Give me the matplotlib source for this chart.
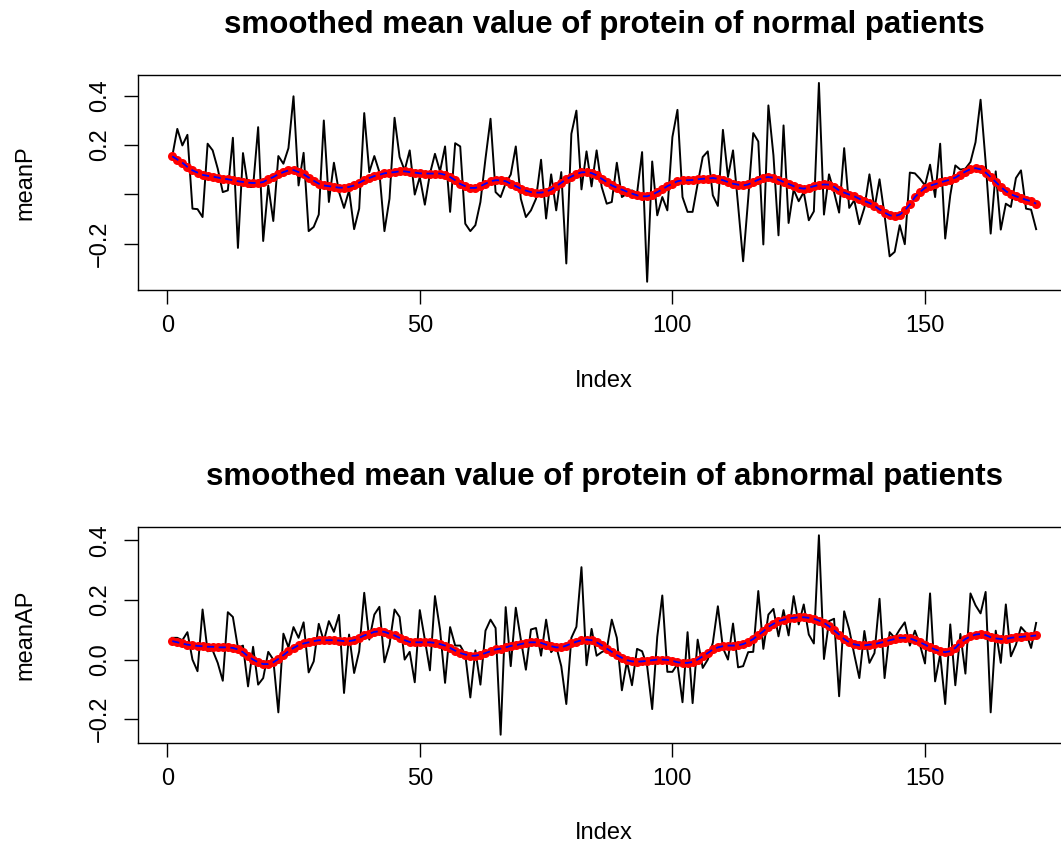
"""Smoothed mean protein values, normal vs abnormal patients (R base-plot look)."""

import numpy as np
import matplotlib
matplotlib.use('Agg')
import matplotlib.pyplot as plt

plt.rcParams['font.family'] = ['Liberation Sans', 'DejaVu Sans']

# ---- data ----
meanP = [
    0.154, 0.265, 0.198, 0.241, -0.058, -0.060, -0.092, 0.205, 0.178, 0.104,
    0.009, 0.016, 0.229, -0.217, 0.167, 0.030, 0.030, 0.272, -0.189, 0.036,
    -0.108, 0.155, 0.124, 0.187, 0.397, 0.036, 0.168, -0.149, -0.132, -0.082,
    0.299, -0.031, 0.128, 0.010, -0.055, 0.016, -0.141, -0.058, 0.329, 0.090,
    0.155, 0.090, -0.149, -0.018, 0.310, 0.151, 0.097, 0.178, -0.001, 0.070,
    -0.042, 0.083, 0.164, 0.093, 0.194, -0.071, 0.207, 0.194, -0.119, -0.149,
    -0.125, -0.031, 0.144, 0.306, 0.009, -0.011, 0.045, 0.080, 0.194, -0.018,
    -0.092, -0.065, -0.018, 0.140, -0.098, 0.081, -0.065, 0.090, -0.280, 0.245,
    0.339, 0.020, 0.174, 0.032, 0.178, 0.030, -0.038, -0.031, 0.128, -0.011,
    0.003, 0.016, 0.003, 0.171, -0.354, 0.133, -0.085, -0.011, -0.065, 0.232,
    0.342, -0.011, -0.071, -0.071, 0.043, 0.151, 0.174, -0.004, -0.047, 0.261,
    0.070, 0.178, -0.044, -0.271, -0.018, 0.248, 0.214, -0.203, 0.360, 0.158,
    -0.166, 0.279, -0.116, 0.019, -0.028, 0.009, -0.105, -0.069, 0.451, -0.082,
    0.081, 0.009, -0.074, 0.187, -0.055, -0.024, -0.121, -0.055, 0.081, -0.058,
    0.061, -0.085, -0.251, -0.233, -0.125, -0.202, 0.088, 0.085, 0.063, 0.036,
    0.120, -0.011, 0.205, -0.179, -0.004, 0.117, 0.100, 0.104, 0.131, 0.211,
    0.383, 0.131, -0.159, 0.093, -0.143, -0.038, -0.051, 0.066, 0.097, -0.058,
    -0.062, -0.141,
]

smoothP = [
    0.154, 0.141, 0.128, 0.111, 0.097, 0.088, 0.079, 0.075, 0.072, 0.068,
    0.064, 0.061, 0.057, 0.053, 0.050, 0.047, 0.046, 0.046, 0.050, 0.061,
    0.070, 0.081, 0.090, 0.097, 0.098, 0.090, 0.081, 0.068, 0.055, 0.043,
    0.036, 0.033, 0.030, 0.027, 0.027, 0.030, 0.036, 0.047, 0.057, 0.066,
    0.074, 0.079, 0.085, 0.088, 0.090, 0.093, 0.093, 0.090, 0.088, 0.085,
    0.084, 0.084, 0.084, 0.084, 0.079, 0.070, 0.057, 0.042, 0.033, 0.026,
    0.026, 0.033, 0.043, 0.053, 0.057, 0.057, 0.053, 0.043, 0.033, 0.023,
    0.015, 0.009, 0.007, 0.007, 0.011, 0.019, 0.033, 0.047, 0.061, 0.072,
    0.082, 0.089, 0.090, 0.086, 0.077, 0.063, 0.050, 0.036, 0.027, 0.019,
    0.011, 0.003, -0.004, -0.008, -0.008, -0.001, 0.009, 0.020, 0.033, 0.043,
    0.053, 0.057, 0.057, 0.058, 0.061, 0.063, 0.064, 0.066, 0.063, 0.057,
    0.050, 0.043, 0.039, 0.036, 0.040, 0.050, 0.059, 0.067, 0.070, 0.067,
    0.059, 0.050, 0.042, 0.033, 0.026, 0.023, 0.027, 0.033, 0.038, 0.040,
    0.039, 0.030, 0.016, 0.007, -0.001, -0.008, -0.018, -0.027, -0.035, -0.047,
    -0.061, -0.074, -0.085, -0.088, -0.082, -0.065, -0.041, -0.011, 0.009, 0.026,
    0.035, 0.041, 0.048, 0.054, 0.060, 0.068, 0.080, 0.092, 0.102, 0.106,
    0.101, 0.088, 0.070, 0.050, 0.030, 0.013, 0.000, -0.008, -0.015, -0.022,
    -0.028, -0.038,
]

meanAP = [
    0.073, 0.073, 0.065, 0.092, 0.000, -0.039, 0.168, 0.028, 0.031, -0.011,
    -0.071, 0.159, 0.143, 0.039, 0.047, -0.090, 0.043, -0.084, -0.062, 0.026,
    0.000, -0.177, 0.087, 0.041, 0.109, 0.073, 0.125, -0.043, -0.006, 0.120,
    0.062, 0.129, 0.093, 0.150, -0.112, 0.084, -0.045, 0.028, 0.224, 0.067,
    0.151, 0.177, -0.009, 0.050, 0.168, 0.143, 0.000, 0.026, -0.076, 0.166,
    0.067, -0.036, 0.213, 0.101, -0.078, 0.109, 0.047, 0.047, 0.017, -0.127,
    0.031, -0.084, 0.097, 0.134, 0.106, -0.252, 0.176, -0.022, 0.174, 0.067,
    -0.034, 0.101, 0.106, 0.013, 0.134, 0.025, 0.045, -0.022, -0.149, 0.073,
    0.110, 0.310, -0.019, 0.103, 0.013, 0.025, 0.034, 0.134, 0.073, -0.103,
    -0.006, -0.086, 0.036, 0.028, -0.022, -0.166, 0.076, 0.215, -0.041, -0.041,
    -0.015, -0.143, 0.092, -0.146, 0.067, -0.028, 0.000, 0.056, 0.179, 0.039,
    0.000, 0.121, -0.026, -0.022, 0.025, 0.026, 0.230, 0.036, 0.151, 0.170,
    0.078, 0.166, 0.081, 0.213, 0.118, 0.185, 0.084, 0.054, 0.417, 0.002,
    0.129, 0.137, -0.123, 0.162, 0.101, 0.017, -0.062, 0.096, -0.011, 0.022,
    0.204, -0.062, 0.092, 0.073, 0.101, 0.125, 0.047, 0.097, 0.050, -0.013,
    0.222, -0.073, 0.017, -0.149, 0.118, -0.086, 0.086, -0.047, 0.222, 0.182,
    0.155, 0.227, -0.177, 0.097, -0.011, 0.185, 0.011, 0.050, 0.109, 0.090,
    0.039, 0.123,
]

smoothAP = [
    0.062, 0.058, 0.054, 0.050, 0.048, 0.046, 0.045, 0.043, 0.043, 0.041,
    0.041, 0.041, 0.039, 0.034, 0.025, 0.011, 0.000, -0.009, -0.015, -0.015,
    -0.009, 0.002, 0.015, 0.028, 0.039, 0.048, 0.054, 0.058, 0.062, 0.065,
    0.065, 0.065, 0.065, 0.064, 0.062, 0.062, 0.065, 0.073, 0.081, 0.087,
    0.093, 0.095, 0.093, 0.087, 0.081, 0.073, 0.065, 0.059, 0.058, 0.058,
    0.058, 0.058, 0.056, 0.052, 0.047, 0.039, 0.030, 0.022, 0.017, 0.013,
    0.013, 0.017, 0.022, 0.028, 0.034, 0.037, 0.041, 0.046, 0.048, 0.052,
    0.056, 0.058, 0.058, 0.056, 0.050, 0.045, 0.041, 0.041, 0.047, 0.054,
    0.060, 0.065, 0.067, 0.065, 0.058, 0.048, 0.037, 0.026, 0.015, 0.006,
    -0.002, -0.006, -0.007, -0.006, -0.004, -0.002, 0.000, 0.000, -0.001, -0.004,
    -0.009, -0.011, -0.011, -0.008, 0.000, 0.011, 0.022, 0.034, 0.041, 0.045,
    0.047, 0.047, 0.048, 0.052, 0.059, 0.069, 0.082, 0.095, 0.110, 0.120,
    0.129, 0.134, 0.138, 0.140, 0.142, 0.142, 0.140, 0.137, 0.131, 0.123,
    0.112, 0.098, 0.084, 0.069, 0.058, 0.051, 0.048, 0.048, 0.050, 0.052,
    0.056, 0.060, 0.065, 0.069, 0.073, 0.073, 0.071, 0.065, 0.058, 0.050,
    0.041, 0.034, 0.028, 0.025, 0.028, 0.039, 0.056, 0.069, 0.078, 0.084,
    0.086, 0.082, 0.075, 0.071, 0.069, 0.069, 0.073, 0.075, 0.076, 0.078,
    0.079, 0.081,
]

x_ticks = [0, 50, 100, 150]
y_ticks = [-0.2, 0.0, 0.2, 0.4]
y_labels_top = ['\u22120.2', '', '0.2', '0.4']
y_labels_bot = ['\u22120.2', '0.0', '0.2', '0.4']

titles = ['smoothed mean value of protein of normal patients',
          'smoothed mean value of protein of abnormal patients']
ylabels = ['meanP', 'meanAP']

# ---- layout (pixels of a 1061x844 canvas) ----
W, H = 1061, 844
fig = plt.figure(figsize=(W / 100, H / 100), dpi=100)
fig.patch.set_facecolor('white')

AX_LEFT, AX_RIGHT = 137.7, 1070.7   # plot region runs past the right edge, like the source
panels = [(75.0, 289.7), (527.3, 742.7)]
LAB = 17


def panel(top_px, bot_px, raw, smooth, title, ylabel, ylabs):
    ax = fig.add_axes([AX_LEFT / W, 1 - bot_px / H,
                       (AX_RIGHT - AX_LEFT) / W, (bot_px - top_px) / H])
    idx = np.arange(1, len(raw) + 1)
    ax.plot(idx, raw, color='black', lw=1.4)
    ax.plot(idx, smooth, linestyle='none', marker='o', markersize=6.5,
            markerfacecolor='#FF0000', markeredgewidth=0)
    ax.plot(idx, smooth, color='#0000FF', lw=1.3, dashes=(4, 2.5))
    ax.margins(x=0.04, y=0.04)

    ax.set_xticks(x_ticks)
    ax.set_yticks(y_ticks)
    ax.set_yticklabels(ylabs, rotation=90, va='center')
    ax.tick_params(direction='out', length=10, width=1.0, labelsize=LAB, colors='black')
    ax.tick_params(axis='x', pad=8)
    ax.tick_params(axis='y', pad=9)
    for s in ax.spines.values():
        s.set_linewidth(1.0)

    cx = (AX_LEFT + AX_RIGHT) / 2 / W
    fig.text(cx, 1 - (top_px - 42) / H, title, ha='center', va='baseline',
             fontsize=22.5, fontweight='bold')
    fig.text(cx, 1 - (top_px + 306) / H, 'Index', ha='center', va='center', fontsize=LAB)
    fig.text(25 / W, 1 - (top_px + bot_px) / 2 / H, ylabel, ha='center', va='center',
             rotation=90, fontsize=LAB)
    return ax


panel(*panels[0], meanP, smoothP, titles[0], ylabels[0], y_labels_top)
panel(*panels[1], meanAP, smoothAP, titles[1], ylabels[1], y_labels_bot)

fig.savefig('out.png', dpi=100, facecolor='white')
